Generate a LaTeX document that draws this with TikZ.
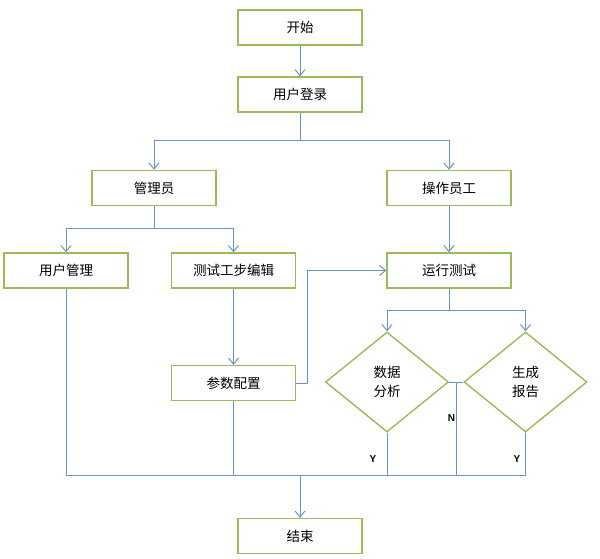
\documentclass[tikz,border=0pt]{standalone}
\usepackage{fontspec}
\setmainfont{Liberation Sans}
\newfontfamily\cjk{Noto Sans CJK SC}
\usetikzlibrary{arrows.meta,shapes.geometric}
\definecolor{boxgreen}{RGB}{155,187,89}
\definecolor{lineblue}{RGB}{105,148,202}
\begin{document}
\begin{tikzpicture}[x=1pt,y=-1pt,
  box/.style={draw=boxgreen, line width=1.4pt, minimum width=124pt, minimum height=35pt, inner sep=0pt, font=\cjk\fontsize{13.5}{15}\selectfont},
  dec/.style={diamond, draw=boxgreen, line width=1.4pt, minimum width=123pt, minimum height=100pt, inner sep=0pt, align=center, font=\cjk\fontsize{13.5}{19}\selectfont},
  conn/.style={draw=lineblue, line width=1pt},
  arr/.style={conn, -{Straight Barb[length=6pt,width=10pt]}},
  lab/.style={font=\bfseries\fontsize{10}{11}\selectfont}]
\useasboundingbox (0,0) rectangle (600,559);
\node[box] (start) at (300,27.5) {开始};
\node[box] (login) at (300,94.5) {用户登录};
\node[box] (admin) at (154,188) {管理员};
\node[box] (oper) at (449,188) {操作员工};
\node[box] (umgr) at (66,270.5) {用户管理};
\node[box] (edit) at (233.5,270.5) {测试工步编辑};
\node[box] (run) at (449,270.5) {运行测试};
\node[box] (param) at (233.5,383) {参数配置};
\node[dec] (ana) at (387,382) {数据\\分析};
\node[dec] (rep) at (525.5,382) {生成\\报告};
\node[box] (end) at (300,536) {结束};
\coordinate (s1) at (300,141);
\coordinate (s2) at (154,228);
\coordinate (s3) at (449,310);
\coordinate (loop) at (307,383);
\coordinate (nj) at (456,382);
\coordinate (bus) at (300,475.5);
\draw[arr] (start) -- (login);
\draw[arr] (login.south) -- (s1) -| (admin.north);
\draw[arr] (s1) -| (oper.north);
\draw[arr] (admin.south) -- (s2) -| (umgr.north);
\draw[arr] (s2) -| (edit.north);
\draw[arr] (oper) -- (run);
\draw[arr] (edit) -- (param);
\draw[arr] (param.east) -- (loop) |- (run.west);
\draw[arr] (run.south) -- (s3) -| (ana.north);
\draw[arr] (s3) -| (rep.north);
\draw[conn] (ana.east) -- (rep.west);
\draw[conn] (umgr.south) |- (bus);
\draw[conn] (param.south) -- (param.south |- bus);
\draw[conn] (ana.south) |- (bus);
\draw[conn] (nj) |- (bus);
\draw[conn] (rep.south) |- (bus);
\draw[arr] (bus) -- (end.north);
\node[lab] (n) at (451.5,418) {N};
\node[lab] (y1) at (373,459) {Y};
\node[lab] (y2) at (517,459) {Y};
\end{tikzpicture}
\end{document}
